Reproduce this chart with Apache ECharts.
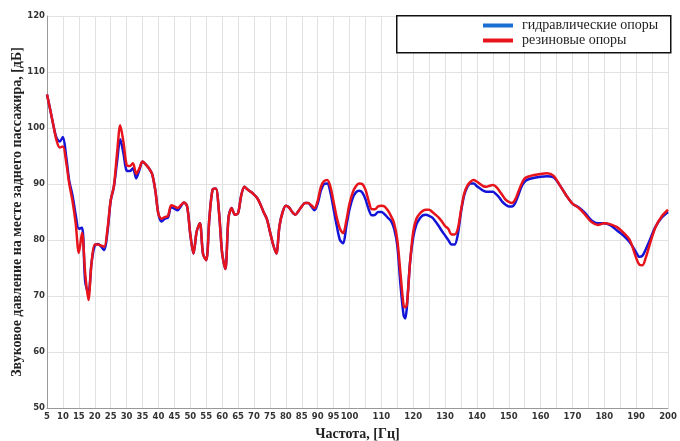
<!DOCTYPE html>
<html>
<head>
<meta charset="utf-8">
<script src="https://cdn.jsdelivr.net/npm/echarts@6/dist/echarts.min.js"></script>
<style>html,body{margin:0;padding:0;background:#fff}#c{width:680px;height:441px}</style>
</head>
<body>
<div id="c"></div>
<script>
const seriesNames = ['гидравлические опоры', 'резиновые опоры'];
const freq = [5,6,7,8,9,10,11,12,13,14,15,16,17,18,19,20,21,22,23,24,25,26,27,28,29,30,31,32,33,34,35,36,37,38,39,40,41,42,43,44,45,46,47,48,49,50,51,52,53,54,55,56,57,58,59,60,61,62,63,64,65,66,67,68,69,70,71,72,73,74,75,76,77,78,79,80,81,82,83,84,85,86,87,88,89,90,91,92,93,94,95,96,97,98,99,100,101,102,103,104,105,106,107,108,109,110,111,112,113,114,115,116,117,117.5,118,119,120,121,122,123,124,125,126,127,128,129,130,131,132,133,134,135,136,137,138,139,140,141,142,143,144,145,146,147,148,149,150,151,152,153,154,155,156,158,160,162,164,166,168,170,172,174,176,178,180,182,184,186,188,190,191,192,193,194,196,198,200];
const hydraulic = [106,103.3,100.5,98.2,97.6,98.4,95,90.5,88,84.5,82,82.2,72.5,70.5,76,79,79.3,78.8,78.2,81.5,87,89.5,94,98,95.5,92.4,92.3,92.8,91,92.5,94,93.5,92.8,91.8,88.9,84.6,83.3,83.8,84,85.9,85.6,85.3,86,86.7,86,81,77.6,81.5,83,77.5,76.4,84,89,89.2,85,77.6,74.8,84,85.7,84.5,84.8,88,89.5,89,88.6,88.1,87.5,86.4,85,83.8,81.5,79.2,77.6,82.5,85,86.1,85.8,85,84.5,85.2,86,86.6,86.6,86,85.3,86.5,88.8,90,90.1,88.5,85.5,82.5,80,79.4,82.5,85.5,87.5,88.5,88.8,88.5,87.3,85.5,84.4,84.5,85,85,84.6,84,83.4,82,79,72,66.5,66,68,76,80.5,82.8,83.8,84.4,84.5,84.3,84,83.3,82.5,81.6,80.8,80,79.2,79.2,81,85,88,89.5,90.1,90.1,89.6,89.2,88.8,88.6,88.6,88.6,88.2,87.6,86.8,86.3,86,86,86.6,88,89.5,90.4,90.8,91.1,91.3,91.4,91.2,89.8,88,86.5,85.8,84.8,83.5,83,83,82.6,81.7,80.8,79.6,77.8,77,77.2,78.3,79.6,82.3,84,85];
const rubber = [106,103.3,100.5,97.8,96.5,96.7,94,90,87,83,77.7,81.3,74,69.3,76,79.2,79.2,79,78.8,82,87.1,89.6,95.5,100.5,97.5,93.4,93.2,93.7,91.8,92.8,94,93.5,92.8,91.8,88.9,84.6,83.8,84.1,84.3,86.2,86,85.7,86.2,86.7,86,81,77.6,81.5,83,77.5,76.4,84,89,89.2,85,77.6,74.8,84,85.7,84.5,84.8,88,89.5,89,88.6,88.1,87.5,86.4,85,83.8,81.5,79.2,77.6,82.5,85,86.1,85.8,85,84.5,85.2,86,86.6,86.6,86.2,85.7,87,89.5,90.5,90.7,89.5,86.8,84,82,81.2,83.5,86.5,88.5,89.6,90.1,90,89,87,85.5,85.5,86,86.1,86,85.3,84.3,83,80,74,68.2,68,68.4,76,81.5,83.8,84.7,85.2,85.4,85.4,85,84.5,84,83.3,82.5,82,81,81,82,85.3,88.3,89.7,90.4,90.7,90.4,90,89.6,89.5,89.7,89.8,89.5,88.8,88,87.2,86.8,86.6,87.2,88.6,90,91,91.3,91.6,91.8,91.9,91.5,89.8,88,86.5,85.7,84.5,83.2,82.7,83,82.8,82.3,81.3,80,76.8,75.6,75.5,76.8,78.7,82.2,84.2,85.4];

const chart = echarts.init(document.getElementById('c'), null, {renderer: 'canvas'});
const serifFont = '"Liberation Serif", "DejaVu Serif", serif';
const tickFont = '"DejaVu Sans", sans-serif';
chart.setOption({
  animation: false,
  backgroundColor: '#fff',
  grid: {left: 47, right: 12, top: 16, bottom: 33, containLabel: false, outerBoundsMode: 'none'},
  graphic: [{
    type: 'rect', left: 396, top: 15, z: 5,
    shape: {width: 274, height: 37},
    style: {fill: '#fff', stroke: '#111', lineWidth: 1.5}
  }],
  legend: {
    orient: 'vertical', left: 483, top: 18, z: 10, padding: 0,
    itemWidth: 30, itemHeight: 4, itemGap: 0, icon: 'rect',
    textStyle: {fontFamily: serifFont, fontSize: 14, color: '#222', lineHeight: 15, padding: [0, 0, 0, 4]},
    data: [
      {name: seriesNames[0], itemStyle: {color: '#1a6fd0'}},
      {name: seriesNames[1], itemStyle: {color: '#e8141c'}}
    ]
  },
  xAxis: {
    type: 'value', min: 5, max: 200, interval: 5,
    name: 'Частота, [Гц]', nameLocation: 'middle', nameGap: 19, nameMoveOverlap: false,
    nameTextStyle: {fontFamily: serifFont, fontSize: 14, fontWeight: 'bold', color: '#222'},
    axisLine: {show: true, lineStyle: {color: '#999', width: 1}},
    axisTick: {show: false},
    axisLabel: {
      margin: 4, color: '#333', fontFamily: tickFont, fontWeight: 'bold', fontSize: 8.5,
      formatter: v => (v <= 100 || v % 10 === 0) ? String(v) : ''
    },
    splitLine: {show: true, lineStyle: {color: '#e2e2e2', width: 1}}
  },
  yAxis: {
    type: 'value', min: 50, max: 120, interval: 10,
    name: 'Звуковое давление на месте заднего пассажира, [дБ]', nameLocation: 'middle', nameGap: 23, nameMoveOverlap: false,
    nameTextStyle: {fontFamily: serifFont, fontSize: 14, fontWeight: 'bold', color: '#222'},
    axisLine: {show: true, lineStyle: {color: '#999', width: 1}},
    axisTick: {show: false},
    axisLabel: {margin: 2, color: '#333', fontFamily: tickFont, fontWeight: 'bold', fontSize: 8.5},
    splitLine: {show: true, lineStyle: {color: '#e2e2e2', width: 1}}
  },
  series: [
    {
      name: seriesNames[0], type: 'line', smooth: 0.3, showSymbol: false,
      lineStyle: {color: '#1414d8', width: 2.5}, itemStyle: {color: '#1414d8'},
      data: freq.map((f, i) => [f, hydraulic[i]])
    },
    {
      name: seriesNames[1], type: 'line', smooth: 0.3, showSymbol: false,
      lineStyle: {color: '#e8141c', width: 2.5}, itemStyle: {color: '#e8141c'},
      data: freq.map((f, i) => [f, rubber[i]])
    }
  ]
});
</script>
</body>
</html>
